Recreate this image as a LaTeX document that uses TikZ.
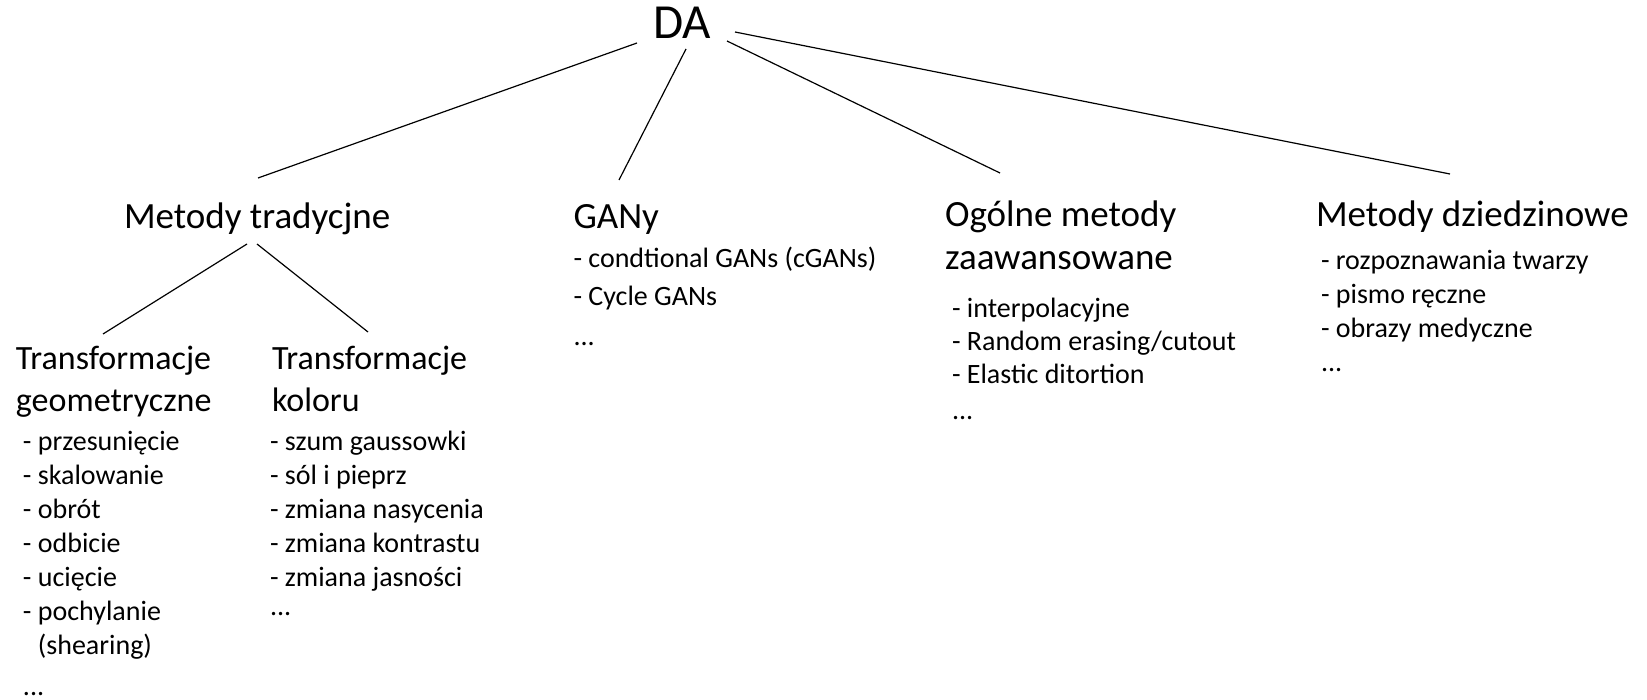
\documentclass[tikz,border=0pt]{standalone}
\usepackage{fontspec}
\setmainfont{Carlito}
\newcommand\mylines[1]{\begin{tabular}[t]{@{}l@{}}#1\end{tabular}}
\begin{document}
\begin{tikzpicture}[x=1pt,y=-1pt,
  txt/.style={anchor=base west,inner sep=0pt,outer sep=0pt},
  root/.style={txt,font=\fontsize{49}{58}\selectfont},
  hdr/.style={txt,font=\fontsize{37}{43}\selectfont},
  sub/.style={txt,font=\fontsize{34}{42}\selectfont},
  itm/.style={txt,font=\fontsize{28}{34}\selectfont},
  conn/.style={line width=1.2pt,black}]
\useasboundingbox (0,0) rectangle (1647,700);
% root
\node[root] (da) at (653,39) {DA};
% level 1
\node[hdr] (mt) at (124,229) {Metody tradycjne};
\node[hdr] (gan) at (573.5,229) {GANy};
\node[hdr] (og) at (945,227) {\mylines{Ogólne metody\\zaawansowane}};
\node[hdr] (md) at (1316,227) {Metody dziedzinowe};
% level 2
\node[sub] (geo) at (16,370) {\mylines{Transformacje\\geometryczne}};
\node[sub] (kol) at (272,370) {\mylines{Transformacje\\koloru}};
% lists
\node[itm] (geol) at (23,450) {\mylines{- przesunięcie\\- skalowanie\\- obrót\\- odbicie\\- ucięcie\\- pochylanie\\\phantom{- }(shearing)\\[7pt]...}};
\node[itm] (koll) at (270,450) {\mylines{- szum gaussowki\\- sól i pieprz\\- zmiana nasycenia\\- zmiana kontrastu\\- zmiana jasności\\[-5pt]...}};
\node[itm] (ganl) at (573.5,268) {\mylines{- condtional GANs (cGANs)\\[4pt]- Cycle GANs\\[6pt]...}};
\node[itm] (ogl) at (952,318) {\mylines{- interpolacyjne\\[-1pt]- Random erasing/cutout\\[-1pt]- Elastic ditortion\\[2pt]...}};
\node[itm] (mdl) at (1321,270) {\mylines{- rozpoznawania twarzy\\- pismo ręczne\\- obrazy medyczne\\...}};
% connectors
\draw[conn] ([shift={(-16,4)}]da.base west) -- ([shift={(134,-51)}]mt.base west);
\draw[conn] ([shift={(33,10)}]da.base west) -- ([shift={(45.5,-49)}]gan.base west);
\draw[conn] ([shift={(74,2)}]da.base west) -- ([shift={(55,-54)}]og.base west);
\draw[conn] ([shift={(82,-7)}]da.base west) -- ([shift={(134,-53)}]md.base west);
\draw[conn] ([shift={(123,15)}]mt.base west) -- ([shift={(87,-36)}]geo.base west);
\draw[conn] ([shift={(133,15)}]mt.base west) -- ([shift={(96,-38)}]kol.base west);
\end{tikzpicture}
\end{document}
